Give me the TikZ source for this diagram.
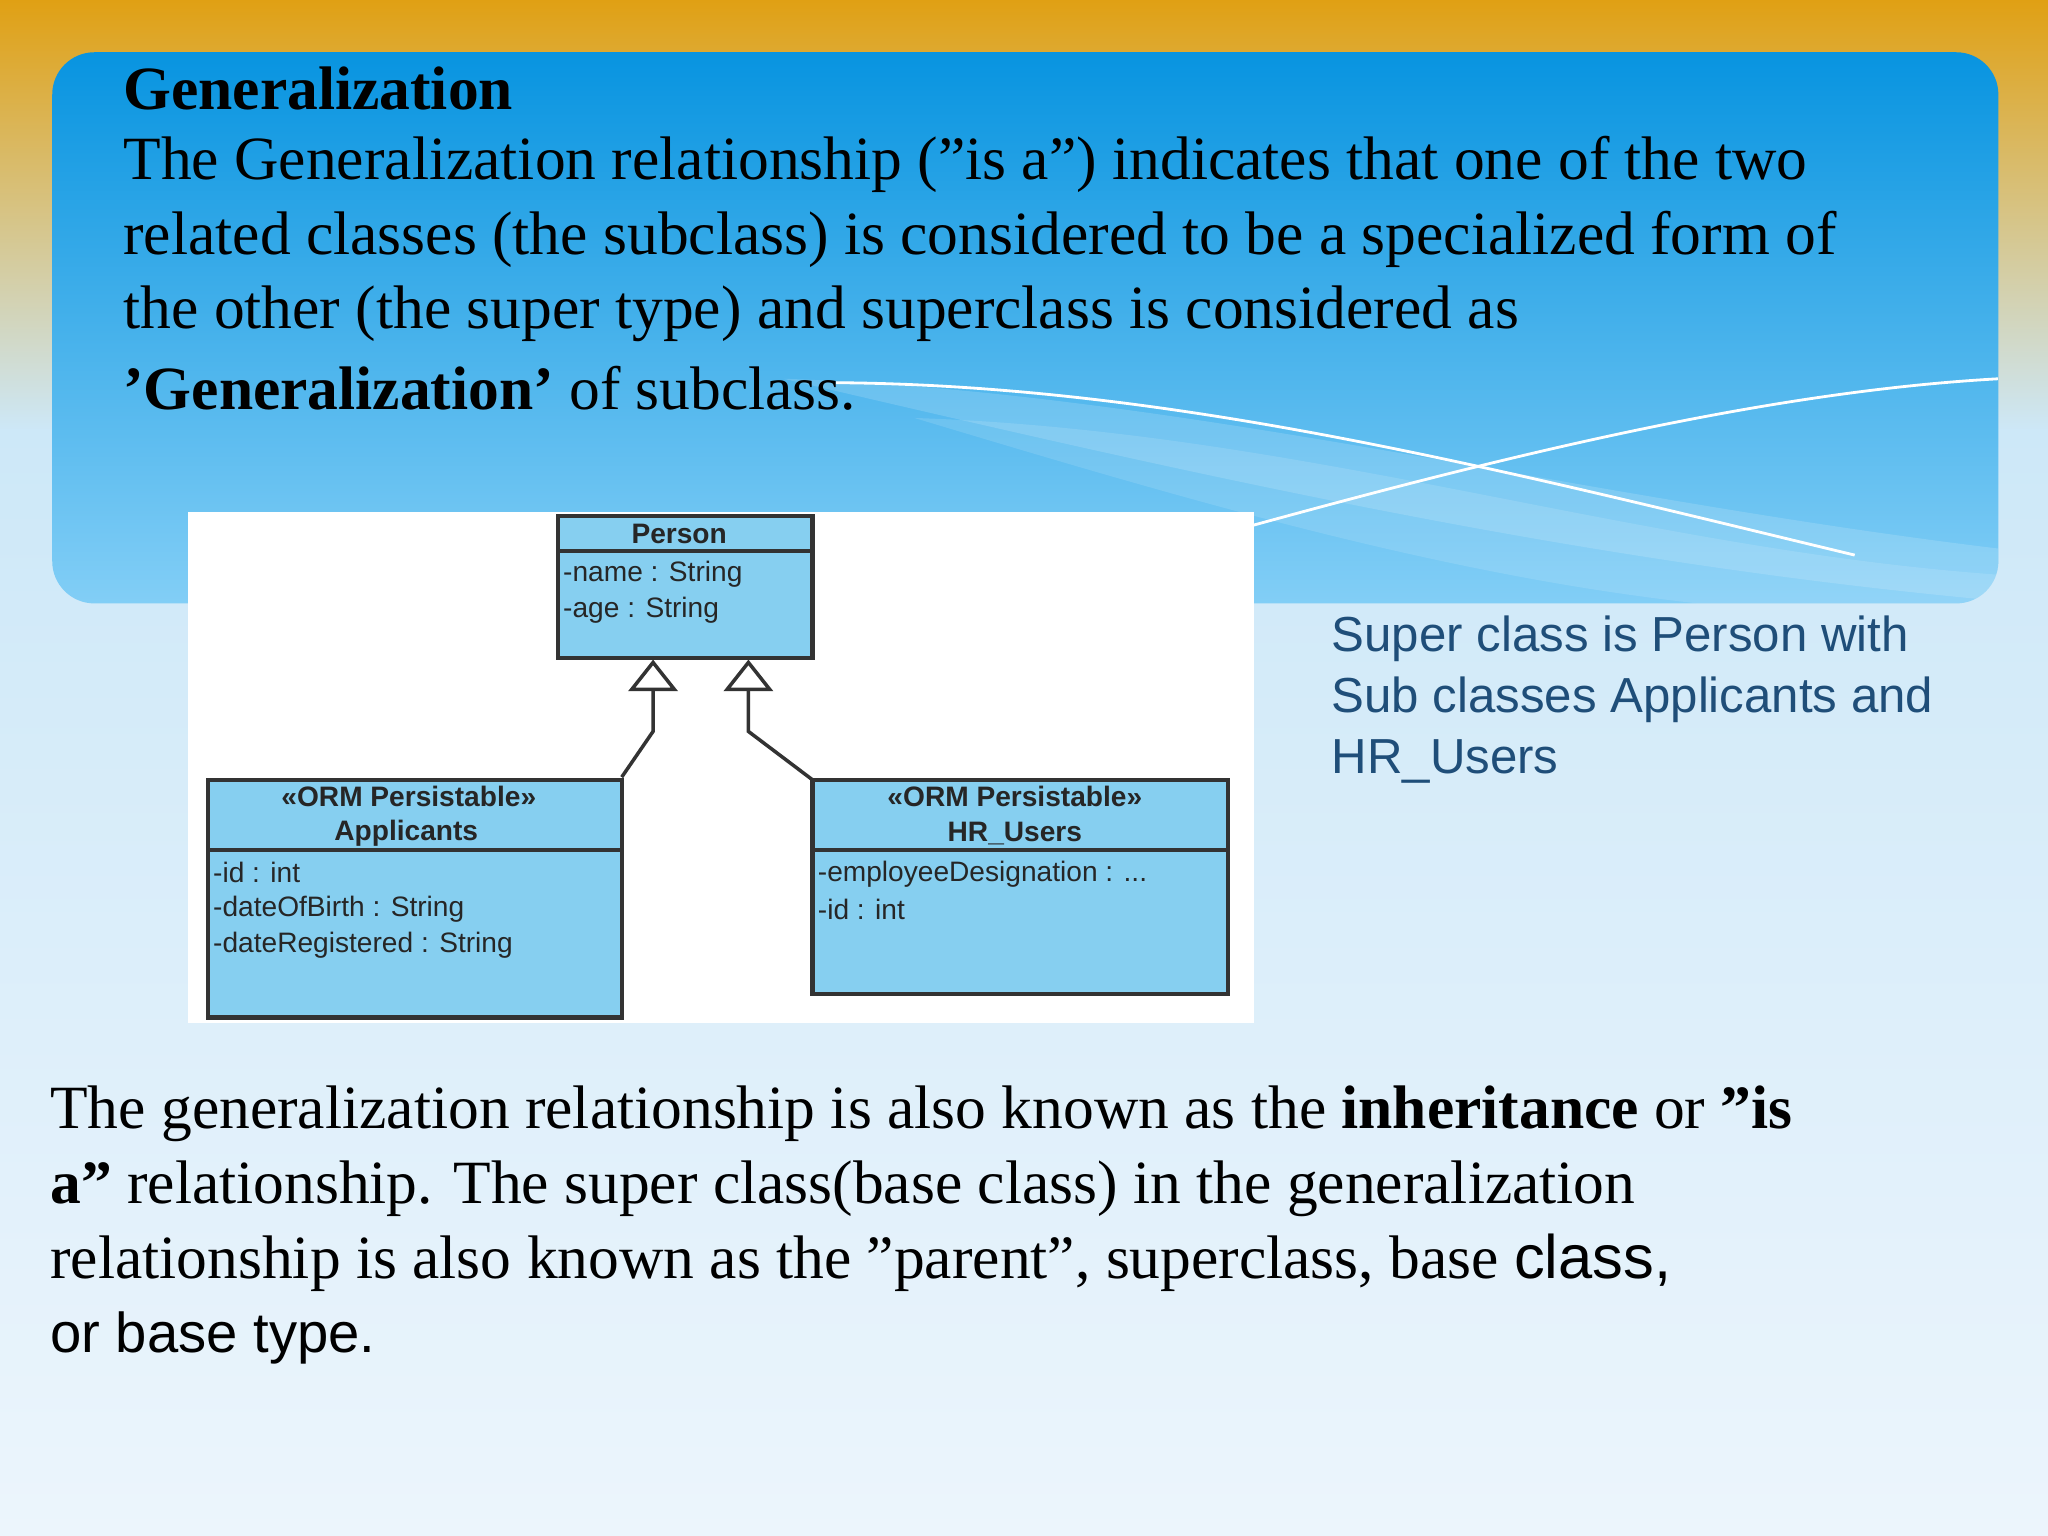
\documentclass[tikz,border=0pt]{standalone}
\usepackage{fontspec}
\setmainfont{Liberation Serif}
\setsansfont{Liberation Sans}
\usetikzlibrary{arrows.meta}
\definecolor{umlfill}{HTML}{86CFF0}
\definecolor{rtext}{HTML}{1F4E79}
\tikzset{
  cls/.style={draw=black!80, line width=1.2pt, fill=umlfill},
  hdr/.style={font=\sffamily\bfseries\fontsize{8}{9}\selectfont, anchor=center, text=black!85},
  attr/.style={font=\sffamily\fontsize{8}{9}\selectfont, anchor=west, text=black!85, inner sep=1pt},
  body/.style={font=\fontsize{17.5}{20}\selectfont, anchor=west, inner sep=0pt},
  rt/.style={font=\sffamily\fontsize{14}{16}\selectfont, anchor=west, inner sep=0pt, text=rtext},
  gen/.style={line width=1pt, draw=black!80},
  tri/.style={-{Triangle[open, length=9pt, width=14pt, fill=white]}, line width=1pt, draw=black!80}
}
\begin{document}
\begin{tikzpicture}[x=0.013061cm, y=-0.013061cm]
\useasboundingbox (0,0) rectangle (1568,1176);
% background
\shade[top color={rgb,255:red,224;green,160;blue,20}, bottom color={rgb,255:red,205;green,232;blue,248}] (0,0) rectangle (1568,330);
\shade[top color={rgb,255:red,205;green,232;blue,248}, bottom color={rgb,255:red,236;green,245;blue,252}] (0,329) rectangle (1568,1176);
% panel
\shade[rounded corners=12pt, top color={rgb,255:red,8;green,148;blue,224}, bottom color={rgb,255:red,130;green,206;blue,246}] (40,40) rectangle (1530,462);
% decorative curves
\begin{scope}
\clip[rounded corners=12pt] (40,40) rectangle (1530,462);
\fill[white, opacity=0.15] (600,290) .. controls (900,300) and (1200,380) .. (1530,420) -- (1530,460) .. controls (1200,430) and (900,360) .. (600,290);
\fill[white, opacity=0.12] (700,320) .. controls (1000,330) and (1250,420) .. (1530,440) -- (1530,462) -- (1300,462) .. controls (1100,440) and (900,380) .. (700,320);
\draw[white, line width=0.8pt] (640,293) .. controls (900,295) and (1150,360) .. (1420,425);
\draw[white, line width=0.8pt] (960,402) .. controls (1150,350) and (1350,300) .. (1530,290);
\end{scope}
% title text
\node[body, font=\bfseries\fontsize{17.5}{20}\selectfont] (t0) at (94,68) {Generalization};
\node[body] (t1) at (94,126) {The Generalization relationship ("is a") indicates that one of the two};
\node[body] (t2) at (94,183) {related classes (the subclass) is considered to be a specialized form of};
\node[body] (t3) at (94,240) {the other (the super type) and superclass is considered as};
\node[body] (t4) at (94,297) {\textbf{'Generalization'} of subclass.};
% UML picture
\fill[white] (144,392) rectangle (960,783);
\draw[cls] (427,395) rectangle (622,504);
\draw[black!80, line width=1.2pt] (427,422) -- (622,422);
\node[hdr] (p) at (520,409) {Person};
\node[attr] (p1) at (428,440) {-name : String};
\node[attr] (p2) at (428,467) {-age : String};
\draw[cls] (159,597) rectangle (476,779);
\draw[black!80, line width=1.2pt] (159,651) -- (476,651);
\node[hdr] (a0) at (313,610) {<<ORM Persistable>>};
\node[hdr] (a00) at (311,638) {Applicants};
\node[attr] (a1) at (160,668) {-id : int};
\node[attr] (a2) at (160,696) {-dateOfBirth : String};
\node[attr] (a3) at (160,724) {-dateRegistered : String};
\draw[cls] (622,597) rectangle (940,761);
\draw[black!80, line width=1.2pt] (622,651) -- (940,651);
\node[hdr] (h0) at (777,610) {<<ORM Persistable>>};
\node[hdr] (h00) at (777,638) {HR\_Users};
\node[attr] (h1) at (623,669) {-employeeDesignation : ...};
\node[attr] (h2) at (623,696) {-id : int};
\coordinate (ta) at (500,505);
\coordinate (tb) at (573,505);
\coordinate (aa) at (476,595);
\coordinate (bb) at (622,597);
\draw[tri] (aa) -- (500,560) -- (ta);
\draw[tri] (bb) -- (573,560) -- (tb);
% right text
\node[rt] (r1) at (1019,489) {Super class is Person with};
\node[rt] (r2) at (1019,536) {Sub classes Applicants and};
\node[rt] (r3) at (1019,583) {HR\_Users};
% bottom text
\node[body] (b1) at (38,853) {The generalization relationship is also known as the \textbf{inheritance} or \textbf{"is}};
\node[body] (b2) at (38,910) {\textbf{a"} relationship. The super class(base class) in the generalization};
\node[body] (b3) at (38,967) {relationship is also known as the "parent", superclass, base {\sffamily class,}};
\node[body, font=\sffamily\fontsize{16}{20}\selectfont] (b4) at (38,1024) {or base type.};
\end{tikzpicture}
\end{document}
